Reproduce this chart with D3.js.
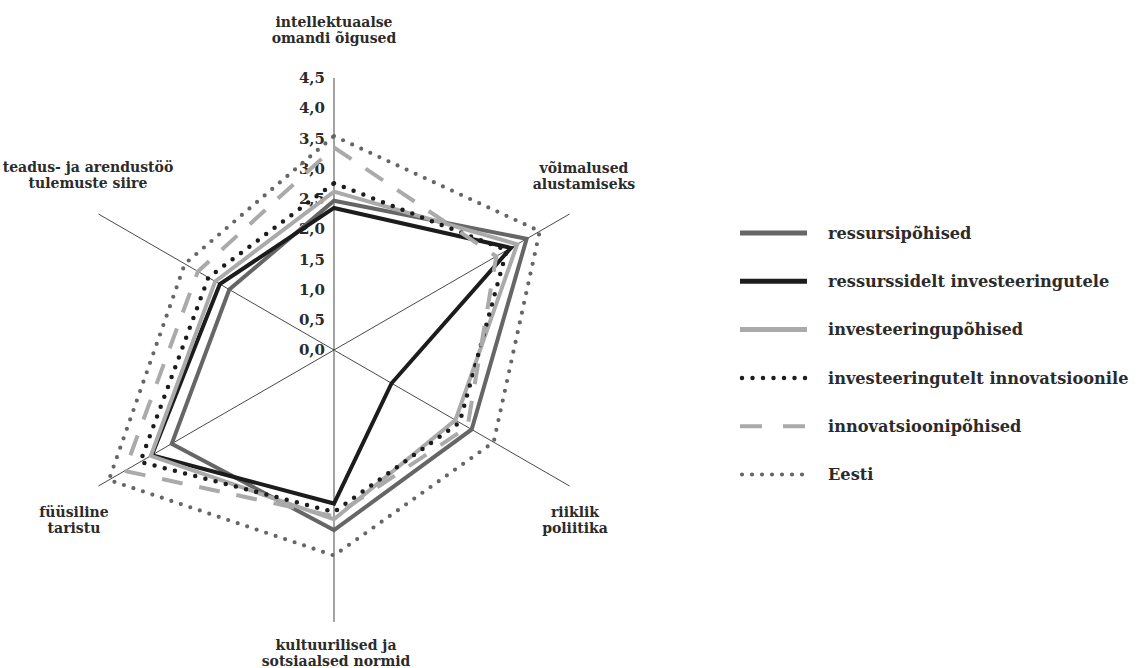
<!DOCTYPE html>
<html>
<head>
<meta charset="utf-8">
<script src="https://cdn.jsdelivr.net/npm/d3@7"></script>
<style>
  body { margin: 0; background: #fff; }
  svg text { font-family: "DejaVu Serif", serif; font-weight: bold; fill: #2b2b2b; }
</style>
</head>
<body>
<div id="chart"></div>
<script>
// categories (axes, clockwise from top)
const axisNames = [
    ["intellektuaalse", "omandi õigused"],
    ["võimalused", "alustamiseks"],
    ["riiklik", "poliitika"],
    ["kultuurilised ja", "sotsiaalsed normid"],
    ["füüsiline", "taristu"],
    ["teadus- ja arendustöö", "tulemuste siire"]
];

const tickValues = [0, 0.5, 1, 1.5, 2, 2.5, 3, 3.5, 4, 4.5];

const seriesNames = [
    "ressursipõhised",
    "ressurssidelt investeeringutele",
    "investeeringupõhised",
    "investeeringutelt innovatsioonile",
    "innovatsioonipõhised",
    "Eesti"
];

// values per series, in axis order
const ressursipohised = [2.47, 3.68, 2.63, 2.98, 3.1, 2.0];
const ressurssidelt = [2.35, 3.38, 1.1, 2.54, 3.48, 2.18];
const investeeringupohised = [2.62, 3.5, 2.32, 2.8, 3.5, 2.27];
const investeeringutelt = [2.76, 3.3, 2.4, 2.68, 3.7, 2.4];
const innovatsioonipohised = [3.35, 3.1, 2.55, 2.75, 4.0, 2.6];
const eesti = [3.54, 3.93, 3.05, 3.4, 4.3, 2.85];

const seriesValues = [ressursipohised, ressurssidelt, investeeringupohised,
    investeeringutelt, innovatsioonipohised, eesti];

// line styles for each series
const styles = [
    { color: "#666666", width: 4, dash: null, cap: "butt" },
    { color: "#1c1c1c", width: 4, dash: null, cap: "butt" },
    { color: "#aaaaaa", width: 4, dash: null, cap: "butt" },
    { color: "#1c1c1c", width: 4.5, dash: "0 10.5", cap: "round" },
    { color: "#aaaaaa", width: 4, dash: "21 17", cap: "butt" },
    { color: "#666666", width: 4.2, dash: "0 10", cap: "round" }
];

const width = 1142, height = 668;
const cx = 334, cy = 350;

const svg = d3.select("#chart")
    .append("svg")
    .attr("width", width)
    .attr("height", height);

const r = d3.scaleLinear()
    .domain([0, 4.5])
    .range([0, 272]);

const angle = i => i * Math.PI / 3; // clockwise from top
const point = (v, i) => [cx + r(v) * Math.sin(angle(i)), cy - r(v) * Math.cos(angle(i))];

const chart = svg.append("g");

// axis spokes
chart.selectAll(".spoke")
    .data(axisNames)
    .enter()
    .append("line")
    .attr("class", "spoke")
    .attr("x1", cx)
    .attr("y1", cy)
    .attr("x2", (d, i) => point(4.5, i)[0])
    .attr("y2", (d, i) => point(4.5, i)[1])
    .attr("stroke", (d, i) => i === 0 || i === 3 ? "#8c8c8c" : "#1a1a1a")
    .attr("stroke-width", (d, i) => i === 0 || i === 3 ? 1.6 : 0.8);

// tick labels along the top axis
chart.selectAll(".tick")
    .data(tickValues)
    .enter()
    .append("text")
    .attr("class", "tick")
    .attr("x", cx - 9)
    .attr("y", d => cy - r(d))
    .attr("dy", "0.35em")
    .attr("text-anchor", "end")
    .style("font-size", "15px")
    .text(d => d3.format(".1f")(d).replace(".", ","));

// series lines
const line = d3.line().curve(d3.curveLinearClosed);

chart.selectAll(".series")
    .data(seriesValues)
    .enter()
    .append("path")
    .attr("class", "series")
    .attr("d", d => line(d.map((v, i) => point(v, i))))
    .attr("fill", "none")
    .attr("stroke", (d, i) => styles[i].color)
    .attr("stroke-width", (d, i) => styles[i].width)
    .attr("stroke-dasharray", (d, i) => styles[i].dash)
    .attr("stroke-linecap", (d, i) => styles[i].cap)
    .attr("stroke-linejoin", "miter");

// category labels
const labelPos = [[334, 27], [584, 173], [575, 517], [336, 650], [74, 517], [88, 172]];

chart.selectAll(".cat")
    .data(axisNames)
    .enter()
    .append("text")
    .attr("class", "cat")
    .attr("text-anchor", "middle")
    .style("font-size", "14px")
    .each(function(d, i) {
        d3.select(this).selectAll("tspan")
            .data(d)
            .enter()
            .append("tspan")
            .attr("x", labelPos[i][0])
            .attr("y", (t, j) => labelPos[i][1] + j * 15.5)
            .text(t => t);
    });

// legend
const legend = svg.append("g").attr("transform", "translate(740, 233)");

const rows = legend.selectAll(".row")
    .data(seriesNames)
    .enter()
    .append("g")
    .attr("class", "row")
    .attr("transform", (d, i) => `translate(0, ${i * 48.3})`);

rows.append("line")
    .attr("x1", (d, i) => styles[i].cap === "round" ? 2 : 0)
    .attr("x2", 67)
    .attr("stroke", (d, i) => styles[i].color)
    .attr("stroke-width", (d, i) => styles[i].dash ? styles[i].width : 5)
    .attr("stroke-dasharray", (d, i) => i === 4 ? "22 21" : styles[i].dash)
    .attr("stroke-linecap", (d, i) => styles[i].cap);

rows.append("text")
    .attr("x", 88)
    .attr("dy", "0.35em")
    .style("font-size", "16.2px")
    .text(d => d);
</script>
</body>
</html>
